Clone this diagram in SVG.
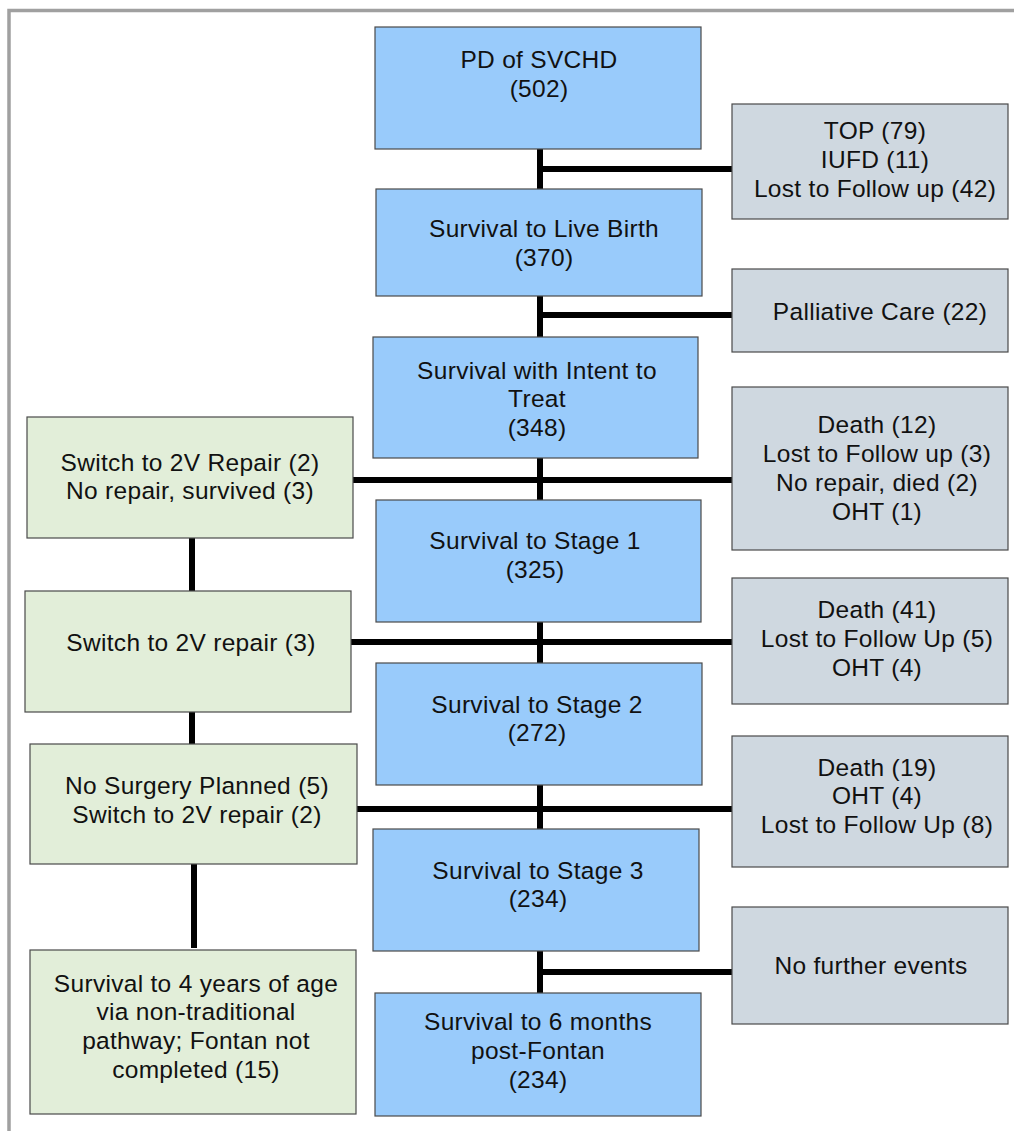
<svg xmlns="http://www.w3.org/2000/svg" width="1014" height="1131" viewBox="0 0 1014 1131">
<style>
.blue{fill:#99CBFB;stroke:#4a4a4a;stroke-width:1.2}
.gray{fill:#CFD8E0;stroke:#4a4a4a;stroke-width:1.2}
.green{fill:#E2EED9;stroke:#4a4a4a;stroke-width:1.2}
text{font-family:"Liberation Sans",Arial,sans-serif;font-size:24.5px;letter-spacing:0.3px;fill:#111;text-anchor:middle}
.conn line{stroke:#000;stroke-width:6}
</style>
<rect width="1014" height="1131" fill="#fff"/>
<g id="frame" fill="none" stroke="#A0A0A0" stroke-width="3.5">
<polyline points="9,1131 9,10.5 1014,10.5"/>
</g>
<g class="conn" id="connectors">
<line x1="540" y1="149" x2="540" y2="189"/>
<line x1="540" y1="169" x2="732" y2="169"/>
<line x1="540" y1="296" x2="540" y2="337"/>
<line x1="540" y1="315" x2="732" y2="315"/>
<line x1="540" y1="458" x2="540" y2="500"/>
<line x1="353" y1="480" x2="732" y2="480"/>
<line x1="540" y1="622" x2="540" y2="663"/>
<line x1="351" y1="642" x2="732" y2="642"/>
<line x1="540" y1="785" x2="540" y2="829"/>
<line x1="357" y1="809" x2="732" y2="809"/>
<line x1="540" y1="951" x2="540" y2="993"/>
<line x1="540" y1="972" x2="732" y2="972"/>
<line x1="192" y1="538" x2="192" y2="591"/>
<line x1="192" y1="712" x2="192" y2="744"/>
<line x1="194" y1="864" x2="194" y2="948"/>
</g>
<g id="pd"><rect class="blue" x="375" y="27" width="326" height="122"/>
<text x="539" y="68">PD of SVCHD</text><text x="539" y="97">(502)</text></g>
<g id="lost1"><rect class="gray" x="732" y="104" width="276" height="115"/>
<text x="875" y="139">TOP (79)</text><text x="875" y="168">IUFD (11)</text><text x="875" y="197">Lost to Follow up (42)</text></g>
<g id="livebirth"><rect class="blue" x="376" y="189" width="326" height="107"/>
<text x="544" y="237">Survival to Live Birth</text><text x="544" y="266">(370)</text></g>
<g id="palliative"><rect class="gray" x="732" y="269" width="276" height="83"/>
<text x="880" y="320">Palliative Care (22)</text></g>
<g id="intent"><rect class="blue" x="373" y="337" width="325" height="121"/>
<text x="537" y="379">Survival with Intent to</text><text x="537" y="407">Treat</text><text x="537" y="436">(348)</text></g>
<g id="alt1"><rect class="green" x="27" y="417" width="326" height="121"/>
<text x="190" y="471">Switch to 2V Repair (2)</text><text x="190" y="499">No repair, survived (3)</text></g>
<g id="lost2"><rect class="gray" x="732" y="387" width="276" height="163"/>
<text x="877" y="433">Death (12)</text><text x="877" y="462">Lost to Follow up (3)</text><text x="877" y="491">No repair, died (2)</text><text x="877" y="520">OHT (1)</text></g>
<g id="stage1"><rect class="blue" x="376" y="500" width="325" height="122"/>
<text x="535" y="549">Survival to Stage 1</text><text x="535" y="578">(325)</text></g>
<g id="alt2"><rect class="green" x="25" y="591" width="326" height="121"/>
<text x="191" y="651">Switch to 2V repair (3)</text></g>
<g id="lost3"><rect class="gray" x="732" y="578" width="276" height="126"/>
<text x="877" y="618">Death (41)</text><text x="877" y="647">Lost to Follow Up (5)</text><text x="877" y="676">OHT (4)</text></g>
<g id="stage2"><rect class="blue" x="376" y="663" width="326" height="122"/>
<text x="537" y="713">Survival to Stage 2</text><text x="537" y="741">(272)</text></g>
<g id="alt3"><rect class="green" x="30" y="744" width="327" height="120"/>
<text x="197" y="794">No Surgery Planned (5)</text><text x="197" y="823">Switch to 2V repair (2)</text></g>
<g id="lost4"><rect class="gray" x="732" y="736" width="276" height="131"/>
<text x="877" y="776">Death (19)</text><text x="877" y="804">OHT (4)</text><text x="877" y="833">Lost to Follow Up (8)</text></g>
<g id="stage3"><rect class="blue" x="373" y="829" width="326" height="122"/>
<text x="538" y="879">Survival to Stage 3</text><text x="538" y="907">(234)</text></g>
<g id="nofurther"><rect class="gray" x="732" y="907" width="276" height="117"/>
<text x="871" y="974">No further events</text></g>
<g id="alt4"><rect class="green" x="30" y="950" width="326" height="164"/>
<text x="196" y="992">Survival to 4 years of age</text><text x="196" y="1020">via non-traditional</text><text x="196" y="1049">pathway; Fontan not</text><text x="196" y="1078">completed (15)</text></g>
<g id="sixmonths"><rect class="blue" x="375" y="993" width="326" height="123"/>
<text x="538" y="1030">Survival to 6 months</text><text x="538" y="1059">post-Fontan</text><text x="538" y="1088">(234)</text></g>
</svg>
